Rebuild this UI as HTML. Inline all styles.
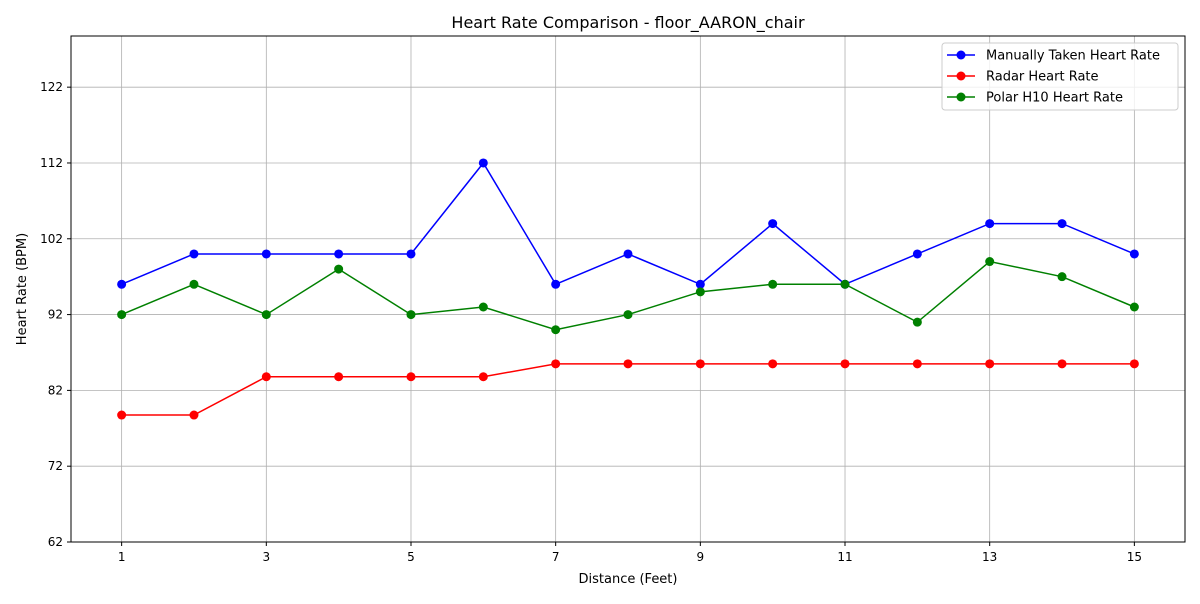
<!DOCTYPE html>
<html><head><meta charset="utf-8"><style>
body{margin:0;background:#fff;font-family:"DejaVu Sans","Liberation Sans",sans-serif}
svg text{font-family:"DejaVu Sans","Liberation Sans",sans-serif}
</style></head><body>
<svg id="chart" width="1200" height="600" viewBox="0 0 1200 600">
<rect width="1200" height="600" fill="#fff"/>
<g id="grid"></g>
<g id="series"></g>
<rect x="71" y="36" width="1114" height="506" fill="none" stroke="#000" stroke-width="1"/>
<g id="axes"></g>
<text x="628" y="28" text-anchor="middle" font-size="16">Heart Rate Comparison - floor_AARON_chair</text>
<text x="628" y="583" text-anchor="middle" font-size="13">Distance (Feet)</text>
<text transform="translate(26,289) rotate(-90)" text-anchor="middle" font-size="13">Heart Rate (BPM)</text>
<g id="legend"></g>
</svg>
<script>
const distances=[1,2,3,4,5,6,7,8,9,10,11,12,13,14,15];
const manualHR=[96,100,100,100,100,112,96,100,96,104,96,100,104,104,100];
const radarHR=[78.75,78.75,83.8,83.8,83.8,83.8,85.5,85.5,85.5,85.5,85.5,85.5,85.5,85.5,85.5];
const polarHR=[92,96,92,98,92,93,90,92,95,96,96,91,99,97,93];
const xTicks=[1,3,5,7,9,11,13,15];
const yTicks=[62,72,82,92,102,112,122];
const seriesNames=["Manually Taken Heart Rate","Radar Heart Rate","Polar H10 Heart Rate"];
const NS="http://www.w3.org/2000/svg";
const L=71,R=1185,T=36,B=542;
const xmin=0.3,xmax=15.7,ymin=62,ymax=128.75;
const xs=v=>L+(v-xmin)/(xmax-xmin)*(R-L);
const ys=v=>B-(v-ymin)/(ymax-ymin)*(B-T);
function mk(tag,attrs,parent){const e=document.createElementNS(NS,tag);for(const k in attrs)e.setAttribute(k,attrs[k]);parent.appendChild(e);return e;}
const grid=document.getElementById('grid'),axes=document.getElementById('axes'),ser=document.getElementById('series'),leg=document.getElementById('legend');
xTicks.forEach(t=>{const x=xs(t);
 let g=mk('line',{x1:x,x2:x,y1:T,y2:B,stroke:'#b0b0b0','stroke-width':0.8},grid);
 
 let k=mk('line',{x1:x,x2:x,y1:B,y2:B+4,stroke:'#000'},axes);
 
 let tx=mk('text',{x:x,y:B+19,'text-anchor':'middle','font-size':12},axes);tx.textContent=t;
 });
yTicks.forEach(t=>{const y=ys(t);
 let g=mk('line',{x1:L,x2:R,y1:y,y2:y,stroke:'#b0b0b0','stroke-width':0.8},grid);
 
 let k=mk('line',{x1:L-4,x2:L,y1:y,y2:y,stroke:'#000'},axes);
 
 let tx=mk('text',{x:L-8,y:y+4,'text-anchor':'end','font-size':12},axes);tx.textContent=t;
 });
const all=[manualHR,radarHR,polarHR],cols=['#0000ff','#ff0000','#008000'],keys=['manual','radar','polar'];
all.forEach((arr,i)=>{
 const g=mk('g',{},ser);
 
 const pl=mk('polyline',{points:arr.map((v,j)=>xs(distances[j])+','+ys(v)).join(' '),fill:'none',stroke:cols[i],'stroke-width':1.5},g);
 
 arr.forEach((v,j)=>{const c=mk('circle',{cx:xs(distances[j]),cy:ys(v),r:4.5,fill:cols[i]},g);
  });
});
const lb=mk('rect',{x:942,y:43,width:236,height:67,rx:3,fill:'#fff','fill-opacity':0.8,stroke:'#ccc'},leg);

seriesNames.forEach((n,i)=>{const y=55+i*21;
 const e=mk('g',{},leg);
 mk('line',{x1:947,x2:975,y1:y,y2:y,stroke:cols[i],'stroke-width':1.5},e);
 mk('circle',{cx:961,cy:y,r:4.5,fill:cols[i]},e);
 const t=mk('text',{x:986,y:y+4.5,'font-size':13},e);t.textContent=n;
});
</script>
</body></html>
